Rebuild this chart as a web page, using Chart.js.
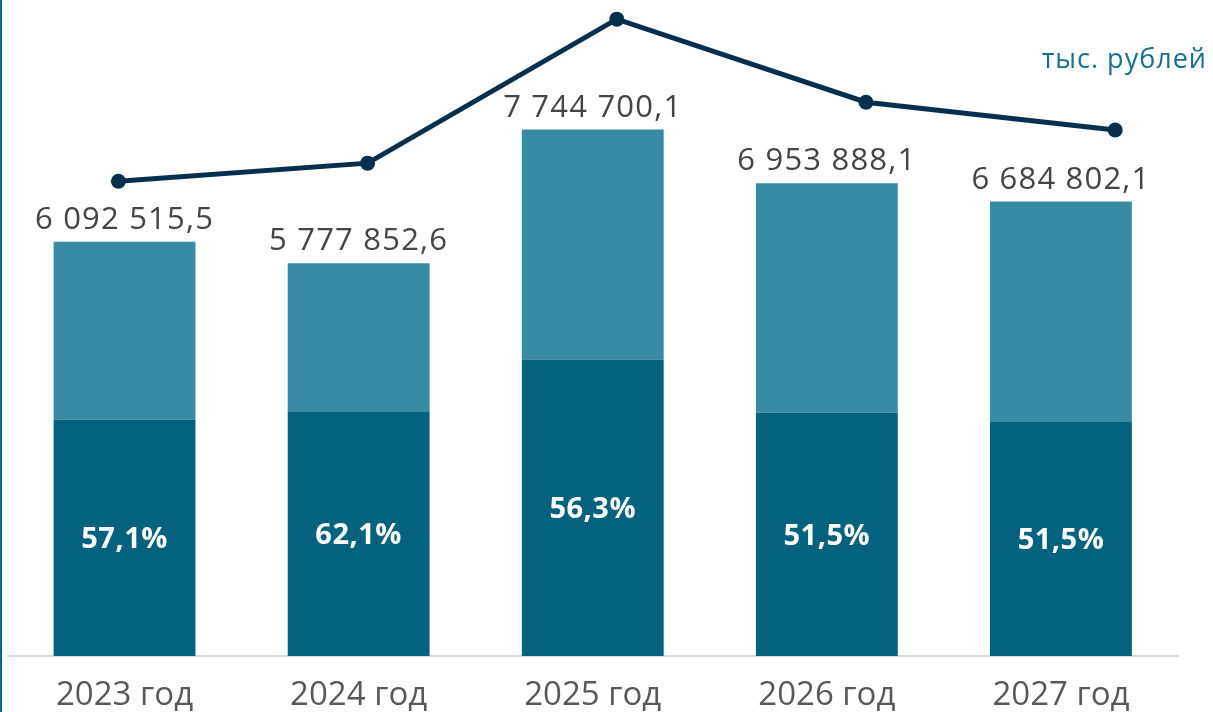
<!DOCTYPE html>
<html><head><meta charset="utf-8">
<script src="https://cdn.jsdelivr.net/npm/chart.js@4/dist/chart.umd.min.js"></script>
<style>html,body{margin:0;padding:0;background:#fff;}#wrap{width:1213px;height:712px;position:relative;}</style>
</head><body><div id="wrap"><canvas id="c" width="1213" height="712"></canvas></div>
<script>
const categories = ['2023 год', '2024 год', '2025 год', '2026 год', '2027 год'];
const totals = [6092515.5, 5777852.6, 7744700.1, 6953888.1, 6684802.1];
const lowerPart = [3478826.3, 3588046.5, 4360266.2, 3581252.4, 3442673.1];
const upperPart = [2613689.2, 2189806.1, 3384433.9, 3372635.7, 3242129.0];
const shareLabels = ['57,1%', '62,1%', '56,3%', '51,5%', '51,5%'];
const linePositions = [0, 1, 2, 3, 4];
const lineValues = [73.2, 76.0, 98.2, 85.4, 81.1];
const unitLabel = 'тыс. рублей';

const FONT = '"Open Sans", sans-serif';
function fmt(v){
  const parts = v.toFixed(1).split('.');
  return parts[0].replace(/\B(?=(\d{3})+(?!\d))/g, ' ') + ',' + parts[1];
}

const decor = {
  id: 'decor',
  afterDatasetsDraw(chart){
    const ctx = chart.ctx;
    ctx.save();
    ctx.fillStyle = '#0e6984';
    ctx.fillRect(0, 0, 2, chart.height);
    const topMeta = chart.getDatasetMeta(1);
    const lowMeta = chart.getDatasetMeta(0);
    ctx.textAlign = 'center';
    ctx.textBaseline = 'alphabetic';
    ctx.font = '400 31px ' + FONT;
    ctx.letterSpacing = '1.2px';
    ctx.fillStyle = '#454545';
    topMeta.data.forEach((el, i) => {
      ctx.fillText(fmt(totals[i]), el.x, el.y - 13);
    });
    ctx.letterSpacing = '0.5px';
    ctx.font = '700 29px ' + FONT;
    ctx.fillStyle = '#ffffff';
    ctx.textBaseline = 'middle';
    lowMeta.data.forEach((el, i) => {
      ctx.fillText(shareLabels[i], el.x, (el.y + el.base) / 2 + 2);
    });
    ctx.letterSpacing = '1px';
    ctx.font = '400 27px ' + FONT;
    ctx.fillStyle = '#1a6f8a';
    ctx.textAlign = 'right';
    ctx.fillText(unitLabel, 1207, 60);
    ctx.restore();
  }
};

new Chart(document.getElementById('c'), {
  data: {
    labels: categories,
    datasets: [
      { type: 'bar', label: 'lower', data: lowerPart, backgroundColor: '#05627f', stack: 's', order: 2, grouped: false,
        categoryPercentage: 1, barPercentage: 0.606, yAxisID: 'y', xAxisID: 'x' },
      { type: 'bar', label: 'upper', data: upperPart, backgroundColor: '#388ba5', stack: 's', order: 2, grouped: false,
        categoryPercentage: 1, barPercentage: 0.606, yAxisID: 'y', xAxisID: 'x' },
      { type: 'line', label: 'line', data: linePositions.map((p, i) => ({ x: p, y: lineValues[i] })),
        borderColor: '#062f4e', backgroundColor: '#062f4e',
        borderWidth: 5, pointRadius: 7.5, pointHoverRadius: 7.5, pointBackgroundColor: '#062f4e', pointBorderWidth: 0,
        tension: 0, yAxisID: 'y2', xAxisID: 'x2', order: 0, clip: false }
    ]
  },
  options: {
    responsive: false,
    animation: false,
    events: [],
    layout: { padding: { left: 6, right: 35, top: 6, bottom: 0 } },
    plugins: { legend: { display: false }, tooltip: { enabled: false } },
    scales: {
      x: {
        stacked: true,
        grid: { display: false, drawTicks: false },
        border: { display: true, color: '#d9d9d9', width: 2 },
        ticks: { color: '#595959', font: { family: FONT, size: 33 }, padding: 20, maxRotation: 0 },
        afterFit(scale){ scale.height = 56; }
      },
      x2: { type: 'linear', display: false, min: -0.445, max: 4.252 },
      y: { stacked: true, display: false, min: 0, max: 9540000 },
      y2: { display: false, min: 0, max: 100 }
    }
  },
  plugins: [decor]
});
</script>
</body></html>
